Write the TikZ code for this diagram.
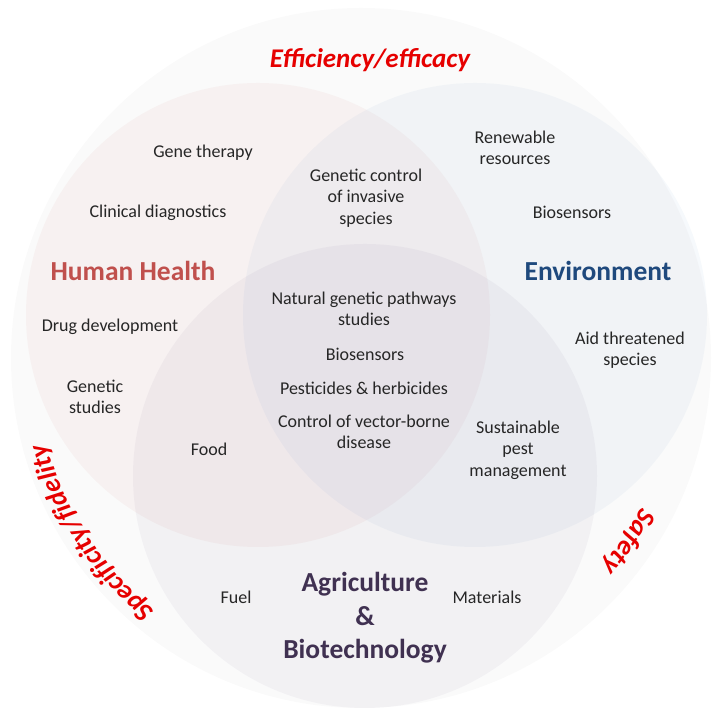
\documentclass[tikz,border=0pt]{standalone}
\usepackage{fontspec}
\setmainfont{Carlito}
\usetikzlibrary{decorations.text}

\definecolor{healthred}{RGB}{192,80,77}
\definecolor{envblue}{RGB}{31,73,125}
\definecolor{agripurple}{RGB}{64,49,81}
\definecolor{envfill}{RGB}{79,129,189}
\definecolor{agrifill}{RGB}{96,74,123}
\definecolor{critred}{RGB}{230,0,0}

\begin{document}
\begin{tikzpicture}[x=1pt,y=1pt]
  % Definimos los estilos
    \tikzstyle{outercircle} = [circle, fill=black!2, minimum size=700pt, inner sep=0pt];
  \tikzstyle{areacircle} = [circle, minimum size=464pt, inner sep=0pt, fill opacity=0.05];
  \tikzstyle{areatitle} = [font=\fontsize{27.5}{33.5}\selectfont\bfseries, align=center];
  \tikzstyle{item} = [font=\fontsize{18}{21.5}\selectfont, align=center, text=black!85];
  \tikzstyle{criterion} = [font=\fontsize{27}{27}\selectfont\bfseries\itshape, text=critred];

  \useasboundingbox (0,0) rectangle (715,708);

  % Circulo exterior
    \node [outercircle] (outer) at (361,350) {};

  % Los tres circulos del diagrama
    \node [areacircle, fill=healthred] (healthc) at (258,393) {};
  \node [areacircle, fill=envfill] (envc) at (475,393) {};
  \node [areacircle, fill=agrifill] (agric) at (365,232) {};

  % Titulos de las areas
    \node [areatitle, text=healthred] (health) at (133,437) {Human Health};
  \node [areatitle, text=envblue] (env) at (598,437) {Environment};
  \node [areatitle, text=agripurple] (agri) at (365,90) {Agriculture\\\&\\Biotechnology};

  % Aplicaciones: salud humana
    \node [item] (gene) at (203,555) {Gene therapy};
  \node [item] (clinical) at (158,495) {Clinical diagnostics};
  \node [item] (drug) at (110,381) {Drug development};
  \node [item] (genstudies) at (95,311) {Genetic\\studies};
  \node [item] (food) at (209,259) {Food};

  % Aplicaciones: medio ambiente
    \node [item] (renewable) at (515,560) {Renewable\\resources};
  \node [item] (biosensorsenv) at (572,496) {Biosensors};
  \node [item] (threatened) at (630,358) {Aid threatened\\species};
  \node [item] (pest) at (518,258) {Sustainable\\pest\\management};

  % Aplicaciones comunes
    \node [item] (invasive) at (366,510) {Genetic control\\of invasive\\species};
  \node [item] (pathways) at (364,399) {Natural genetic pathways\\studies};
  \node [item] (biosensors) at (365,354) {Biosensors};
  \node [item] (pesticides) at (364,320) {Pesticides \& herbicides};
  \node [item] (vector) at (364,276) {Control of vector-borne\\disease};

  % Aplicaciones: agricultura
    \node [item] (fuel) at (236,111) {Fuel};
  \node [item] (materials) at (487,111) {Materials};

  % Criterios alrededor del circulo exterior
    \node [criterion] (efficiency) at (370,648) {Efficiency/efficacy};
  \path [decorate, decoration={text along path, text align=center, text color=critred,
      text={|\fontsize{27}{27}\selectfont\bfseries\itshape|Specificity/fidelity}}]
    (outer.center) ++(233:326) arc [start angle=233, end angle=193, radius=326];
  \path [decorate, decoration={text along path, text align=center, text color=critred,
      text={|\fontsize{27}{27}\selectfont\bfseries\itshape|Safety}}]
    (outer.center) ++(-22:318) arc [start angle=-22, end angle=-47, radius=318];
  \end{tikzpicture}
\end{document}
